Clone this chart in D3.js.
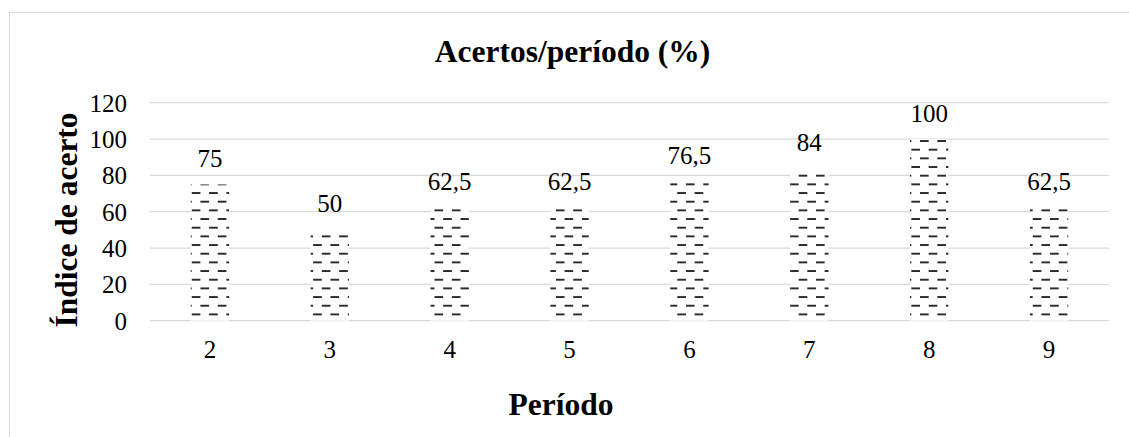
<!DOCTYPE html>
<html><head><meta charset="utf-8">
<script src="https://cdn.jsdelivr.net/npm/d3@7"></script>
<style>html,body{margin:0;padding:0;background:#fff;}svg{display:block;}</style>
</head><body>
<script>
const categories = ["2","3","4","5","6","7","8","9"];
const values = [75, 50, 62.5, 62.5, 76.5, 84, 100, 62.5];
const valueLabels = ["75","50","62,5","62,5","76,5","84","100","62,5"];
const yTicks = [0, 20, 40, 60, 80, 100, 120];
const titleText = "Acertos/período (%)";
const xTitle = "Período";
const yTitle = "Índice de acerto";

const W = 1129, H = 437;
const font = "Liberation Serif";
const svg = d3.select("body").append("svg").attr("width", W).attr("height", H);

svg.append("rect").attr("x", 9.5).attr("y", 12.5).attr("width", W + 20).attr("height", H + 20)
  .attr("fill", "#fff").attr("stroke", "#d9d9d9").attr("stroke-width", 1);

const x = d3.scaleBand().domain(categories).range([150, 1109]).paddingInner(0).paddingOuter(0);
const y = d3.scaleLinear().domain([0, 120]).range([320.7, 102.7]);
const barW = x.bandwidth() * 0.32;

// pattern: dashed horizontal
const P = 17.34;
const defs = svg.append("defs");
const pat = defs.append("pattern").attr("id", "dash").attr("patternUnits", "userSpaceOnUse")
  .attr("width", P).attr("height", P).attr("x", 1).attr("y", y(0) - 6.3);
pat.append("rect").attr("width", P).attr("height", P).attr("fill", "#fff");
pat.append("rect").attr("x", 0).attr("y", -0.8).attr("width", P/2).attr("height", 1.6).attr("fill", "#000");
pat.append("rect").attr("x", P/2).attr("y", P/2 - 0.8).attr("width", P/2).attr("height", 1.6).attr("fill", "#000");
pat.append("rect").attr("x", 0).attr("y", P - 0.8).attr("width", P/2).attr("height", 1.6).attr("fill", "#000");

// gridlines
svg.append("g").selectAll("line").data(yTicks).join("line")
  .attr("x1", 150).attr("x2", 1109)
  .attr("y1", d => y(d)).attr("y2", d => y(d))
  .attr("stroke", "#d9d9d9").attr("stroke-width", 1.3);

// y tick labels
svg.append("g").selectAll("text").data(yTicks).join("text")
  .attr("x", 127).attr("y", d => y(d) + 9)
  .attr("text-anchor", "end").attr("font-family", font).attr("font-size", 25).attr("fill", "#000")
  .text(d => d);

// bars
const data = categories.map((c, i) => ({c, v: values[i], l: valueLabels[i]}));
svg.append("g").selectAll("rect").data(data).join("rect")
  .attr("x", d => x(d.c) + x.bandwidth()/2 - barW/2)
  .attr("width", barW)
  .attr("y", d => y(d.v))
  .attr("height", d => y(0) - y(d.v))
  .attr("fill", "url(#dash)");

// value labels
svg.append("g").selectAll("text").data(data).join("text")
  .attr("x", d => x(d.c) + x.bandwidth()/2)
  .attr("y", d => y(d.v) - 17.5)
  .attr("text-anchor", "middle").attr("font-family", font).attr("font-size", 25).attr("fill", "#000")
  .text(d => d.l);

// x tick labels
svg.append("g").selectAll("text").data(categories).join("text")
  .attr("x", d => x(d) + x.bandwidth()/2).attr("y", 358)
  .attr("text-anchor", "middle").attr("font-family", font).attr("font-size", 25).attr("fill", "#000")
  .text(d => d);

// titles
svg.append("text").attr("x", 572.5).attr("y", 62).attr("text-anchor", "middle")
  .attr("font-family", font).attr("font-weight", "bold").attr("font-size", 31.5).text(titleText);
svg.append("text").attr("x", 561).attr("y", 415).attr("text-anchor", "middle")
  .attr("font-family", font).attr("font-weight", "bold").attr("font-size", 31.5).text(xTitle);
svg.append("text").attr("transform", "translate(77,220) rotate(-90)").attr("text-anchor", "middle")
  .attr("font-family", font).attr("font-weight", "bold").attr("font-size", 31.5).text(yTitle);
</script>
</body></html>
